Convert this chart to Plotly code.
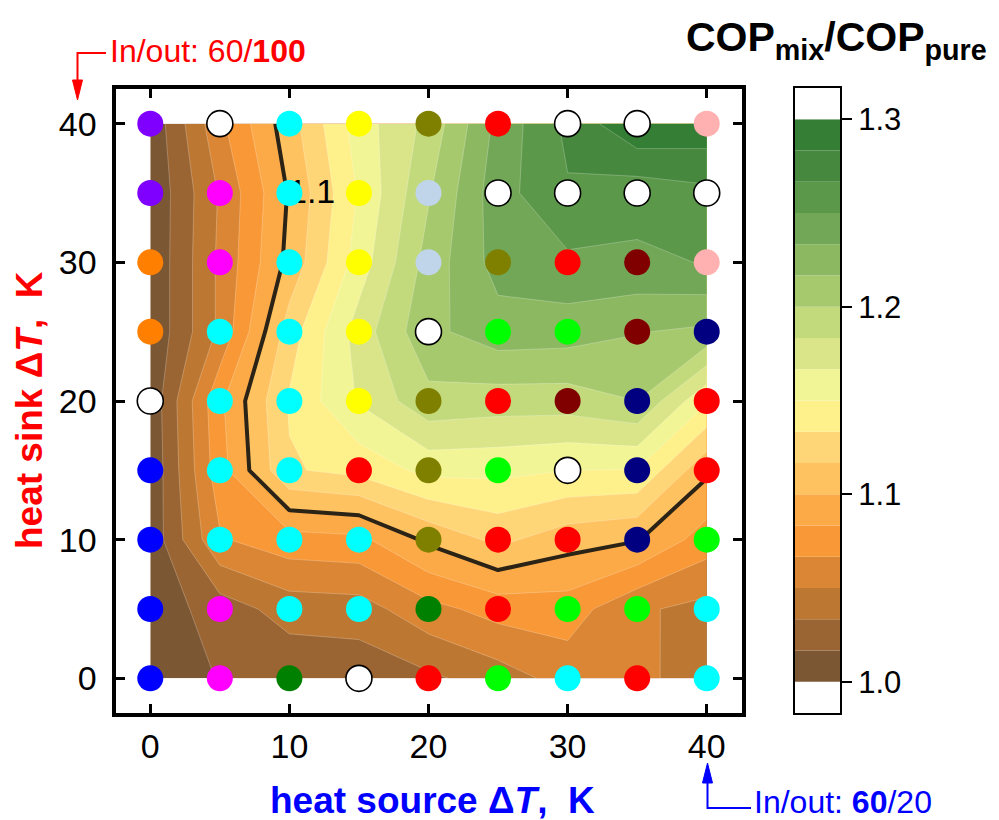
import numpy as np
import plotly.graph_objects as go

# Temperature glide of heat source (columns) and heat sink (rows), K
source_dT = [0, 5, 10, 15, 20, 25, 30, 35, 40]
sink_dT = [0, 5, 10, 15, 20, 25, 30, 35, 40]

# COP_mix / COP_pure, one row per heat-sink dT (0 ... 40 K)
cop_ratio = [
    [1.0017, 1.0178, 1.0200, 1.0217, 1.0300, 1.0417, 1.0567, 1.0533, 1.0433],
    [1.0067, 1.0243, 1.0408, 1.0425, 1.0612, 1.0733, 1.0750, 1.0525, 1.0450],
    [1.0055, 1.0650, 1.0767, 1.0792, 1.1033, 1.1208, 1.1070, 1.1012, 1.0750],
    [1.0033, 1.0767, 1.1317, 1.1383, 1.1550, 1.1542, 1.1500, 1.1492, 1.1033],
    [1.0045, 1.0800, 1.1350, 1.1683, 1.1950, 1.1917, 1.1917, 1.2000, 1.1517],
    [1.0025, 1.0533, 1.1250, 1.1743, 1.2125, 1.2260, 1.2243, 1.2175, 1.2133],
    [1.0025, 1.0533, 1.1050, 1.1575, 1.2067, 1.2400, 1.2467, 1.2467, 1.2508],
    [1.0023, 1.0517, 1.1017, 1.1517, 1.1983, 1.2433, 1.2650, 1.2567, 1.2625],
    [1.0040, 1.0628, 1.1095, 1.1583, 1.1883, 1.2383, 1.2707, 1.2983, 1.2950],
]

# Best-performing mixture at each operating point, shown by marker colour
best_mix_color = [
    ["#0000FF", "#FF00FF", "#008000", "#FFFFFF", "#FF0000", "#00FF00", "#00FFFF", "#FF0000", "#00FFFF"],
    ["#0000FF", "#FF00FF", "#00FFFF", "#00FFFF", "#008000", "#FF0000", "#00FF00", "#00FF00", "#00FFFF"],
    ["#0000FF", "#00FFFF", "#00FFFF", "#00FFFF", "#808000", "#FF0000", "#FF0000", "#000080", "#00FF00"],
    ["#0000FF", "#00FFFF", "#00FFFF", "#FF0000", "#808000", "#00FF00", "#FFFFFF", "#000080", "#FF0000"],
    ["#FFFFFF", "#00FFFF", "#00FFFF", "#FFFF00", "#808000", "#FF0000", "#800000", "#000080", "#FF0000"],
    ["#FF8000", "#00FFFF", "#00FFFF", "#FFFF00", "#FFFFFF", "#00FF00", "#00FF00", "#800000", "#000080"],
    ["#FF8000", "#FF00FF", "#00FFFF", "#FFFF00", "#C0D5EA", "#808000", "#FF0000", "#800000", "#FFB0B0"],
    ["#8000FF", "#FF00FF", "#00FFFF", "#FFFF00", "#C0D5EA", "#FFFFFF", "#FFFFFF", "#FFFFFF", "#FFFFFF"],
    ["#8000FF", "#FFFFFF", "#00FFFF", "#FFFF00", "#808000", "#FF0000", "#FFFFFF", "#FFFFFF", "#FFB0B0"],
]

# Contour levels and fill colours (18 bands from 1.0 to 1.3)
level_start, level_end, level_step = 1.0, 1.3, 1.0 / 60
band_colors = [
    "#7B5734", "#9A6533", "#BC7833", "#DA8634", "#F99836", "#FCAA48",
    "#FFC261", "#FED677", "#FEF08A", "#F2F595", "#DAE58A", "#C2DA7C",
    "#A7C96E", "#8DB862", "#72A757", "#5C984A", "#46893E", "#357E35",
]
out_of_range = "#FFFFFF"
highlight_level = 1.1
cbar_ticks = [1.0, 1.1, 1.2, 1.3]
axis_ticks = [0, 10, 20, 30, 40]

FONT = "Liberation Sans, Arial, sans-serif"
W, H = 999, 820


def px(x, y):
    """pixel position -> paper coordinates"""
    return x / W, 1 - y / H


# colours incl. the white under/over bands, as a stepped colorscale
all_colors = [out_of_range] + band_colors + [out_of_range]
n = len(all_colors)
colorscale = []
for i, c in enumerate(all_colors):
    lo = max(0.0, (i - 0.5) / (n - 1))
    hi = min(1.0, (i + 0.5) / (n - 1))
    colorscale += [[lo, c], [hi, c]]

xs = np.repeat([source_dT], len(sink_dT), axis=0).ravel()
ys = np.repeat(np.array(sink_dT)[:, None], len(source_dT), axis=1).ravel()
cols = np.array(best_mix_color).ravel()
outline = [1.6 if c == "#FFFFFF" else 0 for c in cols]

fig = go.Figure()

# filled contour bands
fig.add_trace(go.Contour(
    x=source_dT, y=sink_dT, z=cop_ratio,
    autocontour=False,
    contours=dict(start=level_start, end=level_end, size=level_step,
                  coloring="fill", showlines=True),
    line=dict(width=0.7, color="rgba(255,255,255,0.35)", smoothing=0),
    colorscale=colorscale, showscale=False, hoverinfo="skip",
))

# the 1.1 iso-line
fig.add_trace(go.Contour(
    x=source_dT, y=sink_dT, z=cop_ratio,
    autocontour=False,
    contours=dict(start=highlight_level, end=highlight_level, size=0.05,
                  coloring="none", showlabels=False),
    line=dict(width=4, color="#2B2416", smoothing=0),
    showscale=False, hoverinfo="skip",
))

# value label of the iso-line (drawn below the markers)
label_at = (11.6, 34.9)
fig.add_trace(go.Scatter(
    x=[label_at[0]], y=[label_at[1]], mode="text",
    text=[f"{highlight_level:.1f}"],
    textfont=dict(size=34, color="black", family=FONT),
    hoverinfo="skip", showlegend=False,
))

fig.add_trace(go.Scatter(
    x=xs, y=ys, mode="markers",
    marker=dict(size=26, color=cols, line=dict(width=outline, color="black")),
    hoverinfo="skip", showlegend=False,
))

# colour bar drawn as stacked bars on its own axes
edges = level_start - level_step + level_step * np.arange(n + 1)
fig.add_trace(go.Bar(
    x=[0.5] * n, y=[level_step] * n, base=edges[:-1], width=1,
    marker=dict(color=all_colors, line=dict(width=0)),
    xaxis="x2", yaxis="y2", hoverinfo="skip", showlegend=False,
))

axis_common = dict(
    range=[-2.5, 42.5], tickvals=axis_ticks, ticks="inside", ticklen=9,
    tickwidth=3, tickcolor="black", showline=True, linewidth=4,
    linecolor="black", mirror="ticks", showgrid=False, zeroline=False,
    tickfont=dict(size=34, color="black", family=FONT),
)

x0, y0 = px(115.5, 713)
x1, y1 = px(741.5, 89)
cx0, cy0 = px(795, 713)
cx1, cy1 = px(840, 88)

fig.update_layout(
    width=W, height=H,
    margin=dict(l=0, r=0, t=0, b=0),
    paper_bgcolor="white", plot_bgcolor="white",
    showlegend=False,
    font=dict(family=FONT, color="black"),
    xaxis=dict(domain=[x0, x1], ticklabelstandoff=0, **axis_common),
    yaxis=dict(domain=[y0, y1], ticklabelstandoff=8, **axis_common),
    xaxis2=dict(domain=[cx0, cx1], range=[0, 1], anchor="y2",
                showticklabels=False, ticks="", showline=True, linewidth=2,
                linecolor="black", mirror=True, showgrid=False, zeroline=False),
    yaxis2=dict(domain=[cy0, cy1], anchor="x2", side="right",
                range=[edges[0], edges[-1]], tickvals=cbar_ticks,
                ticktext=[f"{t:.1f}" for t in cbar_ticks],
                ticks="outside", ticklen=10, tickwidth=1.5, tickcolor="black",
                showline=True, linewidth=2, linecolor="black", mirror=True,
                showgrid=False, zeroline=False,
                tickfont=dict(size=31, color="black", family=FONT)),
)

ann = []
tx, ty = px(432, 800)
ann.append(dict(x=tx, y=ty, xref="paper", yref="paper", showarrow=False,
                xanchor="center", yanchor="middle",
                text="<b>heat source Δ<i>T</i>,\u00a0 K</b>",
                font=dict(size=37, color="#0000FF", family=FONT)))
tx, ty = px(29, 410)
ann.append(dict(x=tx, y=ty, xref="paper", yref="paper", showarrow=False,
                xanchor="center", yanchor="middle", textangle=-90,
                text="<b>heat sink Δ<i>T</i>,\u00a0 K</b>",
                font=dict(size=37, color="#FF0000", family=FONT)))
tx, ty = px(684, 40)
ann.append(dict(x=tx, y=ty, xref="paper", yref="paper", showarrow=False,
                xanchor="left", yanchor="middle",
                text="<b>COP<sub>mix</sub>/COP<sub>pure</sub></b>",
                font=dict(size=41, color="black", family=FONT)))
tx, ty = px(108, 51)
ann.append(dict(x=tx, y=ty, xref="paper", yref="paper", showarrow=False,
                xanchor="left", yanchor="middle",
                text="In/out: 60/<b>100</b>",
                font=dict(size=32, color="#FF0000", family=FONT)))
tx, ty = px(752, 802)
ann.append(dict(x=tx, y=ty, xref="paper", yref="paper", showarrow=False,
                xanchor="left", yanchor="middle",
                text="In/out: <b>60</b>/20",
                font=dict(size=32, color="#0000FF", family=FONT)))
fig.update_layout(annotations=ann)


def path(points, close=False):
    s = "M " + " L ".join(f"{px(a, b)[0]:.5f},{px(a, b)[1]:.5f}" for a, b in points)
    return s + (" Z" if close else "")


shapes = [
    dict(type="path", xref="paper", yref="paper",
         path=path([(106, 53), (77.5, 53), (77.5, 86)]),
         line=dict(color="#FF0000", width=2)),
    dict(type="path", xref="paper", yref="paper",
         path=path([(72.5, 80), (82.5, 80), (77.5, 100)], close=True),
         fillcolor="#FF0000", line=dict(color="#FF0000", width=1)),
    dict(type="path", xref="paper", yref="paper",
         path=path([(751, 808), (707.5, 808), (707.5, 778)]),
         line=dict(color="#0000FF", width=2)),
    dict(type="path", xref="paper", yref="paper",
         path=path([(702.5, 783), (712.5, 783), (707.5, 763)], close=True),
         fillcolor="#0000FF", line=dict(color="#0000FF", width=1)),
]
fig.update_layout(shapes=shapes)

fig.write_html("out.html")
